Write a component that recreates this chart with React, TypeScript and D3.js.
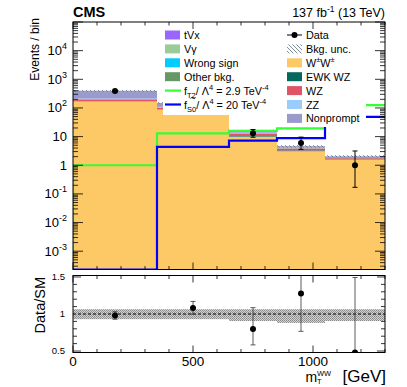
import React from 'react';
import * as d3 from 'd3';

// bins in mT^WW [GeV]
const binEdges = [0, 350, 650, 850, 1050, 1300];

// background stack (bottom -> top)
const wpmwpm = [170, 88, 10, 3.1, 1.6];
const ewkWZ = [3, 2, 0.5, 0.2, 0.1];
const wz = [25, 12, 2, 0.55, 0.2];
const zz = [3, 1.5, 0.3, 0.08, 0.03];
const otherBkg = [3, 1.5, 0.3, 0.1, 0.04];
const wrongSign = [5, 2, 0.4, 0.15, 0.04];
const vGamma = [3, 1, 0.3, 0.08, 0.02];
const tVx = [5, 2, 0.5, 0.14, 0.03];
const nonprompt = [180, 40, 2, 0.3, 0.05];

// relative background uncertainty
const uncUp = [1.065, 1.065, 1.065, 1.065, 1.065];
const uncDn = [0.93, 0.93, 0.905, 0.88, 0.905];

// data
const dataObs = [389, 162, 13, 6, 1];
const dataErrUp = [20, 13.5, 4.7, 3.6, 2.15];
const dataErrDn = [20, 12.5, 3.5, 2.4, 0.83];

// aQGC signals
const fT2 = [1.0, 12.9, 16, 19.4, 126];
const fS0 = [1e-6, 4.4, 7.2, 8.9, 49];

const procs = [
  { key: 'wpmwpm', vals: wpmwpm, color: '#fdc966' },
  { key: 'ewkWZ', vals: ewkWZ, color: '#03695f' },
  { key: 'wz', vals: wz, color: '#df5566' },
  { key: 'zz', vals: zz, color: '#9bcdfc' },
  { key: 'otherBkg', vals: otherBkg, color: '#669865' },
  { key: 'wrongSign', vals: wrongSign, color: '#00ccff' },
  { key: 'vGamma', vals: vGamma, color: '#9acc99' },
  { key: 'tVx', vals: tVx, color: '#9966ff' },
  { key: 'nonprompt', vals: nonprompt, color: '#9a9acb' },
];

const W = 407, H = 387;
const L = 73, R = 385, T = 22, B = 269.5;
const RT = 275.5, RB = 352.5;
const font = 'Liberation Sans, Arial, Helvetica, sans-serif';

export default function App() {
  const x = d3.scaleLinear().domain([0, 1300]).range([L, R]);
  const y = d3.scaleLog().domain([2.3e-4, 1e5]).range([B, T]).clamp(true);
  const yr = d3.scaleLinear().domain([0.48, 1.52]).range([RB, RT]).clamp(true);

  const nb = binEdges.length - 1;
  const rows = d3.range(nb).map(i => {
    const r: any = {};
    procs.forEach(p => (r[p.key] = p.vals[i]));
    return r;
  });
  const series = d3.stack().keys(procs.map(p => p.key))(rows);
  const total = rows.map(r => d3.sum(procs, p => r[p.key]));

  const stepPath = (vals: number[]) => {
    const pts: [number, number][] = [[binEdges[0], 1e-9]];
    vals.forEach((v, i) => pts.push([binEdges[i], v]));
    pts.push([binEdges[nb], vals[nb - 1]]);
    return d3.line<[number, number]>()
      .x(d => x(d[0]))
      .y(d => y(Math.max(d[1], 1e-9)))
      .curve(d3.curveStepAfter)(pts);
  };

  // log ticks
  const majorY: number[] = [];
  const minorY: number[] = [];
  for (let e = -4; e <= 5; e++) {
    for (let k = 1; k <= 9; k++) {
      const v = k * Math.pow(10, e);
      if (v < 2.3e-4 || v > 1e5) continue;
      (k === 1 ? majorY : minorY).push(v);
    }
  }
  const xMinor = d3.range(0, 1301, 100);
  const xMajor = [0, 500, 1000];
  const rMinor = d3.range(0.5, 1.51, 0.1);
  const rMajor = [0.5, 1, 1.5];

  const yLabel = (v: number) => {
    const e = Math.round(Math.log10(v));
    if (e === 0) return <tspan>1</tspan>;
    if (e === 1) return <tspan>10</tspan>;
    return (
      <>
        <tspan>10</tspan>
        <tspan fontSize={9} dy={-6}>{e}</tspan>
      </>
    );
  };

  const legL = [
    { type: 'box', color: '#9966ff', label: <tspan>tVx</tspan> },
    { type: 'box', color: '#9acc99', label: <tspan>Vγ</tspan> },
    { type: 'box', color: '#00ccff', label: <tspan>Wrong sign</tspan> },
    { type: 'box', color: '#669865', label: <tspan>Other bkg.</tspan> },
    {
      type: 'line', color: '#33ff33',
      label: (<>
        <tspan>f</tspan><tspan fontSize={7.5} dy={3}>T2</tspan>
        <tspan dy={-3}>/ Λ</tspan><tspan fontSize={7.5} dy={-5}>4</tspan>
        <tspan dy={5}> = 2.9 TeV</tspan><tspan fontSize={7.5} dy={-5}>-4</tspan>
      </>),
    },
    {
      type: 'line', color: '#0000ff',
      label: (<>
        <tspan>f</tspan><tspan fontSize={7.5} dy={3}>S0</tspan>
        <tspan dy={-3}>/ Λ</tspan><tspan fontSize={7.5} dy={-5}>4</tspan>
        <tspan dy={5}> = 20 TeV</tspan><tspan fontSize={7.5} dy={-5}>-4</tspan>
      </>),
    },
  ];
  const legR = [
    { type: 'data', color: '#000', label: <tspan>Data</tspan> },
    { type: 'hatch', color: '#000', label: <tspan>Bkg. unc.</tspan> },
    { type: 'box', color: '#fdc966', label: (<><tspan>W</tspan><tspan fontSize={7.5} dy={-5}>±</tspan><tspan dy={5}>W</tspan><tspan fontSize={7.5} dy={-5}>±</tspan></>) },
    { type: 'box', color: '#03695f', label: <tspan>EWK WZ</tspan> },
    { type: 'box', color: '#df5566', label: <tspan>WZ</tspan> },
    { type: 'box', color: '#9bcdfc', label: <tspan>ZZ</tspan> },
    { type: 'box', color: '#9a9acb', label: <tspan>Nonprompt</tspan> },
  ];
  const legY = (i: number) => 35 + 13.9 * i;

  const legendEntry = (e: any, i: number, x0: number) => {
    const cy = legY(i);
    let sym: any = null;
    if (e.type === 'box') sym = <rect x={x0} y={cy - 4.5} width={15} height={9} fill={e.color} />;
    if (e.type === 'line') sym = <line x1={x0} x2={x0 + 16} y1={cy} y2={cy} stroke={e.color} strokeWidth={2.2} />;
    if (e.type === 'hatch') sym = <rect x={x0} y={cy - 4.5} width={15} height={9} fill="url(#hatch)" />;
    if (e.type === 'data') sym = (
      <g>
        <line x1={x0} x2={x0 + 15} y1={cy} y2={cy} stroke="#000" strokeWidth={1} />
        <circle cx={x0 + 7.5} cy={cy} r={3} fill="#000" />
      </g>
    );
    return (
      <g key={i}>
        {sym}
        <text x={x0 + 19} y={cy + 4} fontSize={10.8} fontFamily={font}>{e.label}</text>
      </g>
    );
  };

  return (
    <svg width={W} height={H} style={{ position: 'absolute', left: 0, top: 0 }} fontFamily={font}>
      <defs>
        <pattern id="hatch" patternUnits="userSpaceOnUse" width={4} height={4}>
          <path d="M-1,-1 L5,5 M-1,3 L1,5 M3,-1 L5,1" stroke="#5f7080" strokeWidth={0.8} />
        </pattern>
        <pattern id="dots" patternUnits="userSpaceOnUse" width={2} height={2}>
          <rect width={2} height={2} fill="#d0d0d0" />
          <rect width={1} height={1} fill="#8a8a8a" />
          <rect x={1} y={1} width={1} height={1} fill="#9a9a9a" />
        </pattern>
        <clipPath id="mainClip"><rect x={L} y={T} width={R - L} height={B - T} /></clipPath>
        <clipPath id="ratioClip"><rect x={L} y={RT} width={R - L} height={RB - RT} /></clipPath>
      </defs>
      <rect width={W} height={H} fill="#fff" />

      {/* main panel */}
      <g clipPath="url(#mainClip)">
        {series.map((s, si) => (
          <g key={si} fill={procs[si].color}>
            {s.map((d, i) => (
              <rect key={i} x={x(binEdges[i])} width={x(binEdges[i + 1]) - x(binEdges[i])}
                y={y(d[1])} height={Math.max(0, y(Math.max(d[0], 1e-9)) - y(d[1]))} />
            ))}
          </g>
        ))}
        {total.map((t, i) => (
          <rect key={i} x={x(binEdges[i])} width={x(binEdges[i + 1]) - x(binEdges[i])}
            y={y(t * uncUp[i])} height={y(t * uncDn[i]) - y(t * uncUp[i])} fill="url(#hatch)" />
        ))}
        <path d={stepPath(fT2) || ''} fill="none" stroke="#33ff33" strokeWidth={2.2} />
        <path d={stepPath(fS0) || ''} fill="none" stroke="#0000ff" strokeWidth={2.2} />
        {dataObs.map((v, i) => {
          const cx = x((binEdges[i] + binEdges[i + 1]) / 2);
          const y1 = y(v + dataErrUp[i]);
          const y2 = y(Math.max(v - dataErrDn[i], 1e-9));
          return (
            <g key={i} stroke="#000" strokeWidth={1}>
              <line x1={cx} x2={cx} y1={y1} y2={y2} />
              <line x1={cx - 2.5} x2={cx + 2.5} y1={y1} y2={y1} />
              <line x1={cx - 2.5} x2={cx + 2.5} y1={y2} y2={y2} />
              <circle cx={cx} cy={y(v)} r={3} fill="#000" stroke="none" />
            </g>
          );
        })}
      </g>

      {/* legends */}
      <rect x={163} y={T + 1} width={122} height={115 - T - 1} fill="#fff" />
      <rect x={285} y={T + 1} width={81} height={127 - T - 1} fill="#fff" />
      {legL.map((e, i) => legendEntry(e, i, 165))}
      {legR.map((e, i) => legendEntry(e, i, 287))}
      <path d="M190.5,98.5 q1.2,-1.6 2.5,-0.4 q1.3,1.2 2.5,-0.4" fill="none" stroke="#000" strokeWidth={0.9} />

      {/* main frame + ticks */}
      <rect x={L} y={T} width={R - L} height={B - T} fill="none" stroke="#000" strokeWidth={1} />
      <g stroke="#000" strokeWidth={0.8}>
        {majorY.map(v => (
          <g key={'M' + v}>
            <line x1={L} x2={L + 10} y1={y(v)} y2={y(v)} />
            <line x1={R} x2={R - 10} y1={y(v)} y2={y(v)} />
          </g>
        ))}
        {minorY.map(v => (
          <g key={'m' + v}>
            <line x1={L} x2={L + 5} y1={y(v)} y2={y(v)} />
            <line x1={R} x2={R - 5} y1={y(v)} y2={y(v)} />
          </g>
        ))}
        {xMinor.map(v => {
          const len = xMajor.includes(v) ? 7 : 3.5;
          return (
            <g key={'x' + v}>
              <line x1={x(v)} x2={x(v)} y1={B} y2={B - len} />
              <line x1={x(v)} x2={x(v)} y1={T} y2={T + len} />
              <line x1={x(v)} x2={x(v)} y1={RB} y2={RB - len} />
              <line x1={x(v)} x2={x(v)} y1={RT} y2={RT + len} />
            </g>
          );
        })}
        {rMinor.map(v => {
          const len = rMajor.some(m => Math.abs(m - v) < 1e-6) ? 8 : 4;
          return (
            <g key={'r' + v.toFixed(1)}>
              <line x1={L} x2={L + len} y1={yr(v)} y2={yr(v)} />
              <line x1={R} x2={R - len} y1={yr(v)} y2={yr(v)} />
            </g>
          );
        })}
      </g>
      {majorY.filter(v => v >= 1e-3 && v <= 1e4).map(v => (
        <text key={'l' + v} x={67} y={y(v) + 4.5} fontSize={13} textAnchor="end" fontFamily={font}>{yLabel(v)}</text>
      ))}
      <text transform={`translate(38.5,18) rotate(-90)`} fontSize={12} textAnchor="end" fontFamily={font}>Events / bin</text>

      {/* ratio panel */}
      <g clipPath="url(#ratioClip)">
        {total.map((t, i) => (
          <rect key={i} x={x(binEdges[i])} width={x(binEdges[i + 1]) - x(binEdges[i])}
            y={yr(uncUp[i])} height={yr(uncDn[i]) - yr(uncUp[i])} fill="url(#dots)" />
        ))}
        <line x1={L} x2={R} y1={yr(1)} y2={yr(1)} stroke="#000" strokeWidth={1} strokeDasharray="3,2" />
        {dataObs.map((v, i) => {
          const cx = x((binEdges[i] + binEdges[i + 1]) / 2);
          const r = v / total[i];
          const y1 = yr((v + dataErrUp[i]) / total[i]);
          const y2 = yr((v - dataErrDn[i]) / total[i]);
          return (
            <g key={i} stroke="#333" strokeWidth={0.8}>
              <line x1={cx} x2={cx} y1={y1} y2={y2} />
              <line x1={cx - 2.5} x2={cx + 2.5} y1={y1} y2={y1} />
              <line x1={cx - 2.5} x2={cx + 2.5} y1={y2} y2={y2} />
              <circle cx={cx} cy={yr(r)} r={3} fill="#000" stroke="none" />
            </g>
          );
        })}
      </g>
      <rect x={L} y={RT} width={R - L} height={RB - RT} fill="none" stroke="#000" strokeWidth={1} />
      {rMajor.map(v => (
        <text key={'rl' + v} x={65} y={yr(v) + 3.3} fontSize={9.5} textAnchor="end" fontFamily={font}>{String(v)}</text>
      ))}
      <text transform={`translate(44.5,277) rotate(-90)`} fontSize={14.5} textAnchor="end" fontFamily={font}>Data/SM</text>

      {xMajor.map(v => (
        <text key={'xl' + v} x={x(v)} y={365.5} fontSize={13.5} textAnchor="middle" fontFamily={font}>{v}</text>
      ))}
      <text x={305.5} y={382} fontSize={14} fontFamily={font}>m</text>
      <text x={317} y={376} fontSize={7.5} fontFamily={font}>WW</text>
      <text x={317} y={384} fontSize={7.5} fontFamily={font}>T</text>
      <text x={386} y={381.5} fontSize={17} textAnchor="end" fontFamily={font}>[GeV]</text>

      {/* header */}
      <text x={L} y={17} fontSize={14.5} fontWeight="bold" fontFamily={font}>CMS</text>
      <text x={R} y={17} fontSize={12.5} textAnchor="end" fontFamily={font}>
        <tspan>137 fb</tspan><tspan fontSize={8.5} dy={-5}>-1</tspan><tspan dy={5}> (13 TeV)</tspan>
      </text>
    </svg>
  );
}
